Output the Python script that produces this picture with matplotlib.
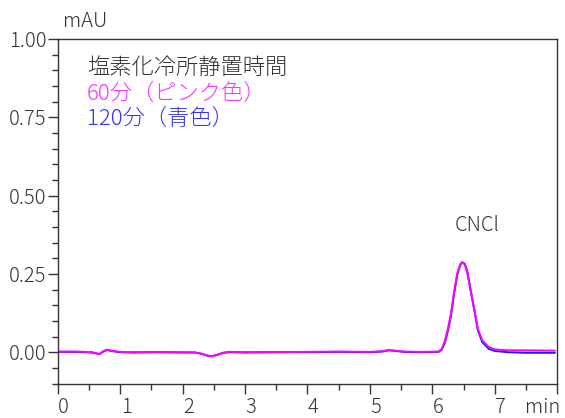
import matplotlib
matplotlib.use("Agg")
import matplotlib.pyplot as plt
from matplotlib.ticker import MultipleLocator
import matplotlib.transforms as mtransforms

plt.rcParams['font.family'] = ['Noto Sans CJK JP', 'DejaVu Sans']
plt.rcParams['font.weight'] = 300

# retention time (min)
time = [0.0, 0.3, 0.55, 0.62, 0.67, 0.72, 0.79, 0.88, 1.0, 1.2, 1.6, 2.0, 2.2, 2.3,
        2.4, 2.47, 2.55, 2.65, 2.75, 3.0, 3.5, 4.0, 4.5, 5.0, 5.2, 5.3, 5.4, 5.55,
        5.8, 6.1, 6.15, 6.2, 6.25, 6.3, 6.35, 6.4, 6.45, 6.48, 6.52, 6.56, 6.61,
        6.67, 6.73, 6.8, 6.9, 7.0, 7.2, 7.5, 7.96]
# 60 min (pink)
mau_60 = [0.002, 0.002, 0.0, -0.004, -0.006, 0.002, 0.008, 0.004, 0.001, 0.0, 0.0, 0.0,
          -0.001, -0.005, -0.011, -0.013, -0.009, -0.002, 0.001, 0.0, 0.0, 0.001, 0.002,
          0.001, 0.003, 0.007, 0.005, 0.002, 0.001, 0.002, 0.010, 0.035, 0.075, 0.125,
          0.195, 0.252, 0.282, 0.287, 0.280, 0.255, 0.200, 0.138, 0.074, 0.038, 0.017,
          0.009, 0.006, 0.006, 0.005]
# 120 min (blue)
mau_120 = [0.001, 0.001, -0.001, -0.004, -0.006, 0.001, 0.007, 0.003, 0.0, -0.001, 0.0,
           -0.001, -0.001, -0.005, -0.011, -0.013, -0.009, -0.002, 0.0, -0.001, 0.0, 0.0,
           0.001, 0.0, 0.002, 0.006, 0.004, 0.001, 0.0, 0.001, 0.008, 0.030, 0.068, 0.118,
           0.188, 0.248, 0.280, 0.287, 0.282, 0.258, 0.203, 0.138, 0.070, 0.032, 0.011,
           0.004, 0.0, -0.002, -0.002]

x_ticks = [0, 1, 2, 3, 4, 5, 6, 7, 8]
x_labels = ['0', '1', '2', '3', '4', '5', '6', '7', '']
y_ticks = [0.0, 0.25, 0.5, 0.75, 1.0]
y_labels = ['0.00', '0.25', '0.50', '0.75', '1.00']

txt = '#333333'
pink = '#ff00ff'
blue = '#1a1aff'

fig = plt.figure(figsize=(5.65, 4.18), dpi=100)
ax = fig.add_axes([57.7 / 565, 1 - 383.5 / 418, 499.5 / 565, 344.5 / 418])

ax.plot(time, mau_120, color=blue, lw=1.4)
ax.plot(time, mau_60, color=pink, lw=1.4)

ax.set_xlim(0, 8)
ax.set_ylim(-0.1, 1.0)
ax.set_xticks(x_ticks)
ax.set_xticklabels(x_labels)
ax.set_yticks(y_ticks)
ax.set_yticklabels(y_labels)
ax.xaxis.set_minor_locator(MultipleLocator(0.5))
ax.yaxis.set_minor_locator(MultipleLocator(0.05))
ax.tick_params(which='major', length=7, width=1, color='#333333', labelsize=14.5,
               labelcolor=txt)
ax.tick_params(which='minor', length=4.5, width=1, color='#333333')
ax.tick_params(axis='y', pad=1)
ax.tick_params(axis='x', pad=3)
for s in ax.spines.values():
    s.set_color('#333333')
    s.set_linewidth(1)

offset = mtransforms.ScaledTranslation(6 / 100, 0, fig.dpi_scale_trans)
for lab in ax.get_xticklabels():
    lab.set_transform(lab.get_transform() + offset)

fig.text(62.7 / 565, 1 - 27 / 418, 'mAU', fontsize=14.5, color=txt, ha='left', va='baseline')
fig.text(543 / 565, 1 - 413 / 418, 'min', fontsize=14.5, color=txt, ha='center', va='baseline')
ax.text(6.36, 0.388, 'CNCl', fontsize=14.5, color=txt, ha='left', va='baseline')

ax.text(0.059, 0.916, '塩素化冷所静置時間', transform=ax.transAxes, fontsize=16,
        color=txt, ha='left', va='center')
ax.text(0.059, 0.839, '60分（ピンク色）', transform=ax.transAxes, fontsize=16,
        color='#ff33ff', ha='left', va='center')
ax.text(0.059, 0.766, '120分（青色）', transform=ax.transAxes, fontsize=16,
        color='#3333ff', ha='left', va='center')

fig.savefig('out.png', dpi=100)
